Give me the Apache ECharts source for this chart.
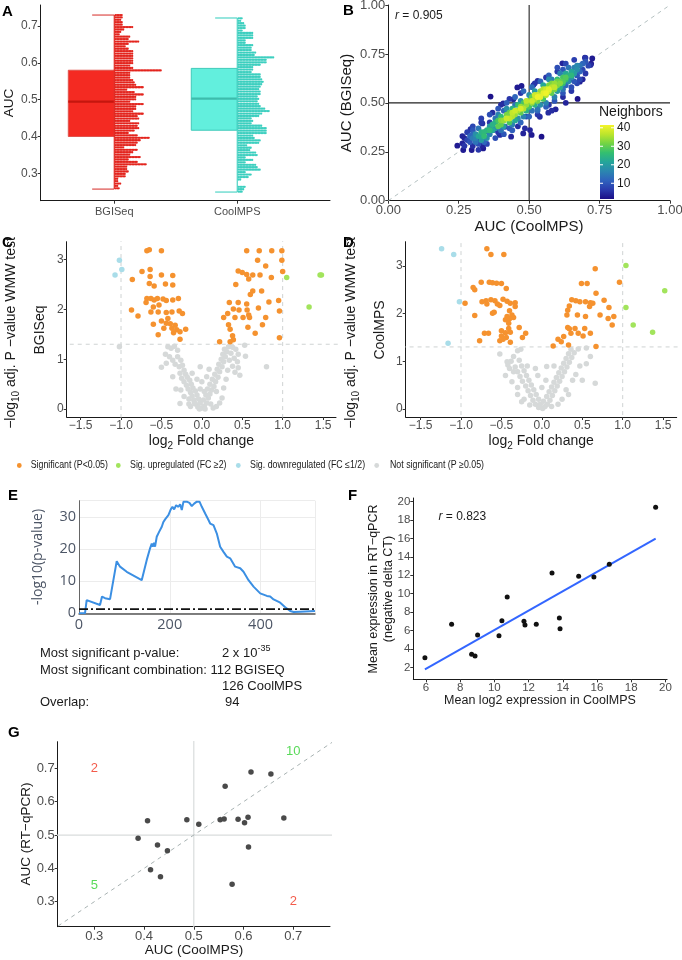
<!DOCTYPE html>
<html><head><meta charset="utf-8">
<script src="https://cdn.jsdelivr.net/npm/echarts@6/dist/echarts.min.js"></script>
<style>html,body{margin:0;padding:0;background:#fff}#c{width:682px;height:960px}</style>
</head><body><div id="c"></div>
<script>
// ---------------- DATA ----------------
const aGroups = ['BGISeq', 'CoolMPS'];
const boxBGISeq = [0.257, 0.400, 0.495, 0.580, 0.730];
const boxCoolMPS = [0.249, 0.417, 0.503, 0.585, 0.722];
const binRangeBGISeq = [0.730, 0.259];
const dotsBGISeq = [5,5,4,5,5,12,6,4,3,10,9,16,9,7,9,12,12,12,12,12,12,10,12,31,10,10,10,12,13,14,19,8,13,19,14,14,10,19,14,14,12,19,15,16,10,16,15,16,13,9,15,23,17,15,14,6,15,12,10,17,9,15,21,8,8,9,7,7,2,2,4,2,3];
const binRangeCoolMPS = [0.721, 0.250];
const dotsCoolMPS = [3,2,4,5,5,3,10,10,10,5,5,10,9,9,12,11,24,19,19,15,10,10,9,15,15,16,17,16,15,14,15,15,13,14,13,14,15,18,21,16,14,9,10,9,16,19,19,19,10,11,15,14,6,9,8,12,13,5,10,5,12,13,15,5,9,7,2,0,0,5,4,3];

const bPoints = [
[0.245,0.281,3],[0.263,0.293,4],[0.266,0.259,3],[0.263,0.330,4],[0.296,0.259,3],[0.292,0.365,5],[0.334,0.395,5],[0.334,0.281,4],[0.363,0.532,2],[0.337,0.267,3],[0.317,0.313,6],[0.408,0.497,4],[0.414,0.378,6],[0.436,0.327,4],[0.458,0.579,3],[0.473,0.586,3],[0.444,0.518,4],[0.479,0.344,4],[0.503,0.361,4],[0.544,0.327,2],[0.568,0.450,5],[0.594,0.467,4],[0.672,0.520,2],[0.680,0.608,4],[0.718,0.693,5],[0.724,0.727,3],[0.698,0.731,4],[0.618,0.702,4],[0.515,0.591,5],[0.530,0.612,5],[0.509,0.336,3],[0.485,0.370,5],[0.538,0.429,5],[0.643,0.617,6],[0.426,0.446,6],[0.396,0.336,5],[0.373,0.361,5],[0.346,0.353,7],
[0.28,0.31,8],[0.29,0.33,12],[0.30,0.32,15],[0.31,0.34,18],[0.31,0.30,14],[0.32,0.33,22],[0.33,0.31,20],[0.33,0.35,24],[0.34,0.33,26],[0.35,0.36,24],[0.35,0.32,18],[0.36,0.38,20],[0.30,0.36,10],[0.32,0.37,14],[0.34,0.30,12],[0.36,0.34,16],[0.37,0.36,22],[0.38,0.40,24],
[0.38,0.37,18],[0.39,0.41,28],[0.40,0.39,30],[0.40,0.43,26],[0.41,0.41,34],[0.41,0.38,20],[0.42,0.44,32],[0.42,0.42,38],[0.43,0.40,28],[0.43,0.45,30],[0.44,0.43,36],[0.44,0.47,24],[0.45,0.44,34],[0.45,0.41,22],[0.46,0.46,35],[0.46,0.49,26],[0.47,0.45,30],[0.47,0.48,34],[0.48,0.47,36],[0.48,0.50,28],[0.49,0.49,34],[0.49,0.46,24],[0.50,0.51,32],[0.50,0.48,28],[0.39,0.44,16],[0.40,0.36,14],[0.42,0.47,18],[0.44,0.39,16],[0.46,0.42,18],[0.47,0.51,18],[0.48,0.43,16],[0.38,0.42,14],[0.41,0.46,12],[0.45,0.49,14],[0.43,0.37,10],
[0.51,0.50,34],[0.51,0.53,30],[0.52,0.52,36],[0.52,0.49,24],[0.53,0.54,38],[0.53,0.51,32],[0.54,0.53,40],[0.54,0.56,34],[0.55,0.55,40],[0.55,0.52,28],[0.56,0.57,38],[0.56,0.54,36],[0.57,0.56,38],[0.57,0.59,32],[0.58,0.58,36],[0.58,0.55,30],[0.59,0.60,34],[0.59,0.57,32],[0.60,0.59,32],[0.60,0.62,26],[0.61,0.61,30],[0.61,0.58,24],[0.62,0.63,28],[0.62,0.60,26],[0.63,0.62,26],[0.63,0.65,22],[0.64,0.64,24],[0.64,0.61,18],[0.65,0.66,22],[0.65,0.63,18],[0.66,0.65,20],[0.66,0.68,16],[0.67,0.67,18],[0.68,0.69,14],[0.68,0.66,12],[0.69,0.70,12],[0.70,0.71,10],[0.71,0.69,8],[0.52,0.56,20],[0.54,0.49,18],[0.56,0.50,16],[0.57,0.62,18],[0.59,0.53,16],[0.60,0.56,20],[0.62,0.57,14],[0.63,0.59,12],[0.64,0.68,14],[0.66,0.61,10],[0.55,0.59,22],[0.58,0.62,16],[0.53,0.47,14],[0.61,0.65,16],[0.67,0.64,10],[0.69,0.67,8],[0.70,0.73,6],[0.62,0.67,10],[0.50,0.54,18],[0.51,0.46,14],
[0.36,0.40,6],[0.39,0.35,6],[0.46,0.38,5],[0.49,0.43,8],[0.53,0.44,6],[0.57,0.49,6],[0.62,0.53,5],[0.65,0.56,6],[0.67,0.60,8],[0.60,0.66,6],[0.56,0.63,6],[0.52,0.60,6],[0.47,0.55,6],[0.43,0.52,6],[0.40,0.49,5],[0.37,0.45,5],[0.33,0.40,6],[0.30,0.28,5],[0.27,0.32,4],[0.58,0.46,5],[0.63,0.50,4],[0.69,0.62,4],[0.72,0.70,3],
[0.30,0.38,8],[0.33,0.42,7],[0.36,0.44,9],[0.39,0.47,10],[0.42,0.50,11],[0.45,0.53,12],[0.48,0.56,12],[0.51,0.58,13],[0.54,0.61,12],[0.57,0.64,11],[0.60,0.68,9],[0.63,0.70,8],[0.66,0.72,7],
[0.32,0.26,6],[0.35,0.29,8],[0.38,0.32,9],[0.41,0.34,10],[0.44,0.36,11],[0.47,0.40,12],[0.50,0.43,12],[0.53,0.46,12],[0.56,0.48,11],[0.59,0.51,10],[0.62,0.55,10],[0.65,0.58,9],[0.68,0.62,8],[0.70,0.65,6],
[0.36,0.36,26],[0.39,0.38,30],[0.40,0.41,33],[0.43,0.42,37],[0.45,0.46,38],[0.47,0.47,39],[0.49,0.51,37],[0.51,0.51,38],[0.53,0.53,41],[0.56,0.55,41],[0.57,0.57,40],[0.59,0.58,37],[0.61,0.60,33],[0.63,0.63,29],[0.65,0.64,25],[0.67,0.69,17],[0.34,0.35,25],[0.37,0.39,24],[0.44,0.45,37],[0.52,0.54,38],[0.55,0.57,36],[0.58,0.60,32],[0.60,0.61,31],[0.62,0.61,29],
[0.27,0.28,6],[0.29,0.30,10],[0.31,0.32,16],[0.33,0.33,22],[0.30,0.34,12],[0.28,0.35,7],[0.32,0.29,9]
];
const bCorr = 0.905;
const neighborTicks = [10, 20, 30, 40];

const cSignificant = [[-0.68,3.18],[-0.65,3.20],[-0.50,3.18],[-0.74,2.76],[-0.64,2.80],[-0.64,2.66],[-0.50,2.69],[-0.36,2.68],[-0.86,2.60],[-0.65,2.52],[-0.59,2.47],[-0.45,2.51],[-0.36,2.49],[-0.68,2.22],[-0.63,2.22],[-0.59,2.19],[-0.55,2.22],[-0.48,2.21],[-0.44,2.18],[-0.36,2.19],[-0.29,2.22],[-0.69,2.14],[-0.60,2.05],[-0.53,2.09],[-0.87,1.99],[-0.63,1.95],[-0.54,1.95],[-0.44,1.94],[-0.37,1.95],[-0.28,1.97],[-0.24,1.92],[-0.79,1.87],[-0.50,1.77],[-0.44,1.72],[-0.39,1.71],[-0.60,1.70],[-0.47,1.62],[-0.37,1.62],[-0.31,1.59],[-0.27,1.55],[-0.20,1.60],[-0.54,1.49],[-0.35,1.53],[-0.27,1.40],[-0.42,1.82],[-0.33,1.68],
[0.555,3.18],[0.71,3.18],[0.865,3.18],[0.99,3.18],[0.69,2.99],[0.99,2.99],[0.79,2.87],[1.0,2.76],[0.45,2.77],[0.50,2.74],[0.555,2.70],[0.63,2.69],[0.72,2.69],[0.86,2.64],[0.58,2.61],[0.42,2.50],[0.60,2.30],[0.63,2.37],[0.74,2.37],[0.34,2.14],[0.45,2.14],[0.555,2.11],[0.83,2.15],[0.95,2.18],[0.39,2.01],[0.46,1.99],[0.56,1.99],[0.70,2.03],[0.96,1.97],[0.32,1.92],[0.58,1.89],[0.59,1.84],[0.27,1.84],[0.41,1.84],[0.51,1.84],[0.79,1.84],[0.33,1.69],[0.75,1.69],[0.35,1.60],[0.57,1.64],[0.38,1.47],[0.39,1.39],[0.66,1.52],[0.96,1.43],[0.22,1.35],[0.35,1.35]];
const cUp = [[1.05,2.64],[1.327,2.05],[1.463,2.69],[1.48,2.69]];
const cDown = [[-1.074,2.69],[-1.02,2.99],[-0.99,2.80]];
const cNotSig = [[-1.02,1.25],[-0.50,0.84],[-0.42,1.25],[-0.38,1.22],[-0.34,1.26],[-0.30,1.18],[-0.40,1.05],[-0.36,0.98],[-0.44,0.92],[-0.30,1.05],[-0.26,0.98],[-0.33,0.90],[-0.28,0.85],[-0.24,0.88],[-0.22,0.78],[-0.27,0.72],[-0.20,0.70],[-0.25,0.62],[-0.18,0.64],[-0.22,0.55],[-0.15,0.58],[-0.19,0.48],[-0.13,0.50],[-0.17,0.40],[-0.11,0.42],[-0.14,0.33],[-0.08,0.36],[-0.12,0.26],[-0.06,0.28],[-0.10,0.18],[-0.04,0.20],[-0.08,0.10],[-0.02,0.12],[-0.05,0.04],[0.0,0.02],[0.03,0.06],[0.06,0.12],[0.02,0.18],[0.08,0.22],[0.05,0.28],[0.10,0.30],[0.12,0.38],[0.07,0.40],[0.15,0.45],[0.10,0.50],[0.17,0.55],[0.13,0.60],[0.20,0.64],[0.16,0.70],[0.22,0.75],[0.19,0.80],[0.25,0.85],[0.21,0.90],[0.27,0.95],[0.24,1.00],[0.29,1.05],[0.26,1.10],[0.31,1.15],[0.28,1.20],[0.33,1.25],[0.38,1.24],[0.42,1.20],[0.36,1.12],[0.40,1.02],[0.34,0.98],[0.44,0.95],[0.38,0.86],[0.45,0.83],[0.47,0.68],[0.41,0.74],[0.54,1.06],[0.53,1.28],[0.80,0.85],[-0.27,0.11],[-0.16,0.10],[-0.16,0.20],[-0.22,0.25],[-0.26,0.38],[0.18,0.05],[0.22,0.12],[0.25,0.22],[0.18,0.35],[0.27,0.42],[0.30,0.60],[0.03,0.35],[-0.02,0.40],[0.0,0.55],[-0.06,0.60],[0.06,0.65],[-0.12,0.72],[0.09,0.80],[-0.02,0.85],[-0.09,0.12],[0.11,0.10],[0.14,0.02],[-0.14,0.05],[0.04,0.0],[-0.03,0.0],[-0.32,0.40],[0.32,0.78],[-0.36,0.65],[-0.45,1.10],[0.45,1.10]];

const dSignificant = [[-0.68,3.36],[-0.63,3.24],[-0.47,3.24],[-0.75,2.66],[-0.65,2.66],[-0.61,2.65],[-0.56,2.64],[-0.50,2.63],[-0.85,2.55],[-0.83,2.50],[-0.44,2.53],[-0.95,2.22],[-0.74,2.25],[-0.69,2.27],[-0.63,2.29],[-0.58,2.27],[-0.48,2.30],[-0.43,2.26],[-0.39,2.22],[-0.33,2.23],[-0.33,2.15],[-0.68,2.20],[-0.55,2.20],[-0.52,2.17],[-0.40,2.06],[-0.59,2.03],[-0.61,2.01],[-0.37,1.97],[-0.83,1.96],[-0.43,1.94],[-0.35,1.92],[-0.45,1.87],[-0.40,1.89],[-0.41,1.80],[-0.28,1.71],[-0.41,1.69],[-0.50,1.64],[-0.45,1.60],[-0.39,1.61],[-0.71,1.59],[-0.66,1.59],[-0.20,1.59],[-0.50,1.53],[-0.44,1.50],[-0.24,1.50],[-0.77,1.43],[-0.52,1.43],[-0.39,1.40],[-0.48,1.46],
[0.66,2.94],[0.49,2.63],[0.56,2.63],[0.96,2.66],[0.67,2.43],[0.37,2.29],[0.42,2.27],[0.47,2.25],[0.54,2.25],[0.60,2.23],[0.63,2.22],[0.77,2.28],[0.34,2.16],[0.59,2.15],[0.83,2.13],[0.32,2.07],[0.31,1.97],[0.44,1.97],[0.54,1.94],[0.72,1.97],[0.82,1.90],[0.89,1.94],[0.87,1.76],[0.32,1.71],[0.34,1.68],[0.41,1.69],[0.53,1.69],[0.27,1.52],[0.36,1.59],[0.45,1.59],[0.51,1.53],[0.60,1.59],[0.20,1.46],[0.24,1.41],[0.33,1.34],[0.67,1.31],[0.14,1.32]];
const dUp = [[1.04,3.01],[1.04,2.13],[1.13,1.76],[1.37,1.61],[1.52,2.48]];
const dDown = [[-1.24,3.36],[-1.09,3.24],[-1.02,2.25],[-1.16,1.38]];
const dNotSig = [[-0.52,1.15],[-0.43,0.99],[-0.38,1.00],[-0.42,0.92],[-0.30,1.22],[-0.26,1.25],[-0.35,1.10],[-0.28,1.02],[-0.33,0.88],[-0.25,0.90],[-0.30,0.78],[-0.35,0.78],[-0.22,0.80],[-0.27,0.68],[-0.19,0.70],[-0.24,0.58],[-0.37,0.57],[-0.16,0.60],[-0.20,0.48],[-0.13,0.50],[-0.17,0.38],[-0.10,0.40],[-0.14,0.28],[-0.07,0.30],[-0.11,0.18],[-0.04,0.20],[-0.08,0.10],[-0.02,0.10],[-0.04,0.03],[0.01,0.01],[0.04,0.05],[0.07,0.10],[0.02,0.16],[0.10,0.18],[0.06,0.26],[0.13,0.28],[0.09,0.36],[0.16,0.38],[0.12,0.46],[0.19,0.48],[0.15,0.56],[0.22,0.58],[0.18,0.66],[0.25,0.68],[0.21,0.76],[0.28,0.78],[0.24,0.86],[0.31,0.88],[0.27,0.96],[0.34,0.98],[0.30,1.06],[0.37,1.08],[0.33,1.16],[0.40,1.18],[0.36,1.25],[0.45,1.26],[0.55,1.28],[0.47,0.90],[0.60,1.10],[0.55,0.95],[0.42,0.72],[0.66,0.54],[0.50,0.60],[0.06,0.89],[-0.08,0.85],[0.15,0.90],[-0.25,0.15],[-0.22,0.20],[-0.30,0.30],[0.25,0.20],[0.30,0.40],[0.20,0.10],[-0.15,0.08],[0.12,0.05],[-0.45,0.70],[-0.18,0.90],[0.00,0.45],[0.05,0.60],[-0.05,0.70],[-0.30,0.45],[0.38,0.60],[0.33,0.30],[-0.40,0.85]];
const pCutoff = 1.301;
const fcCutoffs = [-1, 1];

const eCurve = [[0,0],[13.2,0],[16.9,4.1],[46.3,2.6],[50.7,5.2],[57.4,4.7],[68.4,4.4],[83.1,16.2],[90.4,14.5],[105.1,12.9],[138.2,10.3],[149.3,16.6],[156.6,20.2],[160.3,21.7],[162.5,20.7],[165.4,21.9],[167.6,20.7],[171.3,23.8],[176.5,25.3],[178.7,24.8],[182.4,26.9],[186,28.4],[189.7,29.2],[191.9,28.8],[197,30.5],[202.2,32.3],[205.9,33.1],[209.6,32.3],[214,33.6],[219.1,33.1],[222.8,33.9],[226.5,32.1],[230.2,34.7],[237.5,34.7],[243.4,34.3],[248.5,33.3],[253.7,34.1],[259.6,34.7],[265.5,34.7],[270.6,33.1],[278,31.0],[285.3,29.0],[289,27.9],[292.6,28.4],[296.3,27.4],[303.7,24.8],[311,20.7],[318.4,19.1],[325.7,17.6],[333.1,17.1],[344.1,14.5],[347.8,14.0],[355.2,14.0],[362.5,12.9],[373.5,10.3],[384.6,8.3],[399.3,6.2],[414,5.4],[421.3,5.2],[428.7,4.3],[443.4,3.3],[454.4,1.9],[465.4,0.7],[472.8,0.4],[487.5,0.5],[520,0.7]];
const eThreshold = 1.3;
const eXRange = [0, 520];

const fPoints = [[5.94,3.04],[7.50,6.67],[8.67,3.41],[8.87,3.23],[9.02,5.51],[10.27,5.43],[10.44,7.07],[10.75,9.64],[11.73,7.00],[11.79,6.60],[12.45,6.67],[13.37,12.25],[13.80,7.36],[13.84,6.20],[14.93,11.89],[15.82,11.81],[16.72,13.20],[19.43,19.39]];
const fCorr = 0.823;

const gPoints = [[0.388,0.490],[0.407,0.543],[0.427,0.470],[0.413,0.396],[0.433,0.375],[0.447,0.453],[0.486,0.546],[0.510,0.532],[0.563,0.646],[0.553,0.546],[0.561,0.548],[0.589,0.547],[0.609,0.553],[0.602,0.537],[0.610,0.464],[0.577,0.352],[0.615,0.689],[0.655,0.683],[0.681,0.551]];
const gQuadCounts = [{x:0.3,y:0.7,n:'2',agree:false},{x:0.7,y:0.75,n:'10',agree:true},{x:0.3,y:0.35,n:'5',agree:true},{x:0.7,y:0.3,n:'2',agree:false}];

// ---------------- STYLE / LAYOUT ----------------
const FONT = '"Liberation Sans", Arial, Helvetica, sans-serif';
const OPEN = '"Open Sans", "Liberation Sans", sans-serif';
const TICK = '#4d4d4d';
const cOrange = '#f5922f', cGreen = '#a2e45c', cBlue = '#a9dde9', cGrey = '#d6d9d9';
const neighborColors = ['#1c0e86','#2a3aad','#2f62bd','#2b86b0','#24a59a','#33bf70','#73d444','#bce52c','#f4f42a'];
const nRange = [1.5, 41.5];

const grids = [
  {left:40.7, top:5, width:289.3, height:195.7},     // A
  {left:388.3, top:5, width:281.7, height:195.7},    // B
  {left:66.7, top:241.7, width:269.3, height:175.3}, // C
  {left:405.7, top:241.7, width:271, height:175.3},  // D
  {left:79, top:500.7, width:236, height:112.6},     // E
  {left:413.3, top:498, width:253.8, height:181.3},  // F
  {left:57.7, top:741.7, width:272.3, height:185}    // G
].map(g => Object.assign({containLabel:false, outerBoundsMode:'none'}, g));

function ggAxis(gi, min, max, ticks, fmt, fs, extra) {
  return Object.assign({
    type:'value', gridIndex:gi, min:min, max:max, scale:true,
    axisLine:{show:true, onZero:false, lineStyle:{color:'#1a1a1a', width:1}},
    axisTick:{show:true, length:3, customValues:ticks, lineStyle:{color:'#333', width:1}},
    axisLabel:{show:true, customValues:ticks, formatter:fmt, fontSize:fs, color:TICK, fontFamily:FONT, margin:3, hideOverlap:false},
    splitLine:{show:false}
  }, extra || {});
}
const f1 = v => (+v).toFixed(1);
const f2 = v => (+v).toFixed(2);
const fm = v => (+v).toFixed(1).replace('-', '\u2212');
const fi = v => String(Math.round(v));

const xAxes = [
  ggAxis(0, 0.4016, 2.754, [1,2], v => aGroups[Math.round(v)-1], 11),
  ggAxis(1, 0, 1, [0,0.25,0.5,0.75,1], f2, 13),
  ggAxis(2, -1.672, 1.66, [-1.5,-1,-0.5,0,0.5,1,1.5], fm, 12),
  ggAxis(3, -1.684, 1.668, [-1.5,-1,-0.5,0,0.5,1,1.5], fm, 12),
  {type:'value', gridIndex:4, min:eXRange[0], max:eXRange[1], interval:200,
    axisLine:{show:true, onZero:false, lineStyle:{color:'#555', width:1.5}}, axisTick:{show:false},
    axisLabel:{customValues:[0,200,400], fontSize:14.5, color:'#4d5666', fontFamily:OPEN, margin:4},
    splitLine:{show:true, lineStyle:{color:'#ececec', width:1}}},
  ggAxis(5, 5.26, 20.1, [6,8,10,12,14,16,18,20], fi, 11.5),
  ggAxis(6, 0.2264, 0.7738, [0.3,0.4,0.5,0.6,0.7], f1, 13)
];
xAxes[0].axisLabel.margin = 6;
const yAxes = [
  ggAxis(0, 0.2255, 0.7573, [0.3,0.4,0.5,0.6,0.7], f1, 12),
  ggAxis(1, 0, 1, [0,0.25,0.5,0.75,1], f2, 13),
  ggAxis(2, -0.16, 3.36, [0,1,2,3], fi, 12),
  ggAxis(3, -0.17, 3.51, [0,1,2,3], fi, 12),
  {type:'value', gridIndex:4, min:0, max:35, interval:10,
    axisLine:{show:true, onZero:false, lineStyle:{color:'#666', width:1}}, axisTick:{show:false},
    axisLabel:{customValues:[0,10,20,30], fontSize:14.5, color:'#4d5666', fontFamily:OPEN, margin:3},
    splitLine:{show:true, lineStyle:{color:'#ececec', width:1}}},
  ggAxis(5, 0.70, 20.4, [2,4,6,8,10,12,14,16,18,20], fi, 11.5),
  ggAxis(6, 0.225, 0.78, [0.3,0.4,0.5,0.6,0.7], f1, 13)
];

const series = [];
function refLine(ai, pts, color, width, type, z) {
  series.push({type:'line', xAxisIndex:ai, yAxisIndex:ai, data:pts, symbol:'none', silent:true,
    lineStyle:{color:color, width:width, type:type||'solid'}, z:z||1, animation:false});
}
function scat(ai, data, color, size, z) {
  series.push({type:'scatter', xAxisIndex:ai, yAxisIndex:ai, data:data, symbolSize:size,
    itemStyle:{color:color, opacity:1}, z:z||3, silent:true, animation:false});
}

// ---- Panel A ----
const aStyle = [
  {fill:'#f42a22', stroke:'#e0534d', med:'#c5160e', dot:'#e3241d', whisk:'#e0261e', cap:'#df5a57'},
  {fill:'#62efdd', stroke:'#3fcab9', med:'#3dbcac', dot:'#3ccfbf', whisk:'#4fd3c4', cap:'#5fd8cb'}
];
const BOX_HALF = 0.374, CAP = 0.18, DOT_STEP = 1.5;
series.push({
  type:'custom', coordinateSystem:'cartesian2d', xAxisIndex:0, yAxisIndex:0, silent:true, z:2,
  data:[[1].concat(boxBGISeq), [2].concat(boxCoolMPS)],
  renderItem:function(params, api){
    const gx = api.value(0), lw = api.value(1), q1 = api.value(2), md = api.value(3), q3 = api.value(4), uw = api.value(5);
    const s = aStyle[gx-1];
    const tl = api.coord([gx-BOX_HALF, q3]), br = api.coord([gx, q1]);
    const m0 = api.coord([gx-BOX_HALF, md]), m1 = api.coord([gx, md]);
    const top = api.coord([gx, uw]), bot = api.coord([gx, lw]);
    const ct = api.coord([gx-CAP, uw]), cb = api.coord([gx-CAP, lw]);
    return {type:'group', children:[
      {type:'rect', shape:{x:tl[0], y:tl[1], width:br[0]-tl[0], height:br[1]-tl[1]}, style:{fill:s.fill, stroke:s.stroke, lineWidth:1}},
      {type:'line', shape:{x1:m0[0], y1:m0[1], x2:m1[0], y2:m1[1]}, style:{stroke:s.med, lineWidth:2.2}},
      {type:'line', shape:{x1:ct[0], y1:ct[1], x2:top[0], y2:top[1]}, style:{stroke:s.cap, lineWidth:1.3}},
      {type:'line', shape:{x1:cb[0], y1:cb[1], x2:bot[0], y2:bot[1]}, style:{stroke:s.cap, lineWidth:1.3}},
      {type:'line', shape:{x1:top[0], y1:top[1], x2:bot[0], y2:bot[1]}, style:{stroke:s.whisk, lineWidth:1.2}}
    ]};
  }
});
function dotRows(gx, range, counts) {
  const step = (range[0]-range[1])/(counts.length-1);
  return counts.map((n, i) => [gx, range[0]-i*step, n]);
}
series.push({
  type:'custom', coordinateSystem:'cartesian2d', xAxisIndex:0, yAxisIndex:0, silent:true, z:3,
  data: dotRows(1, binRangeBGISeq, dotsBGISeq).concat(dotRows(2, binRangeCoolMPS, dotsCoolMPS)),
  renderItem:function(params, api){
    const gx = api.value(0), v = api.value(1), n = api.value(2);
    const p = api.coord([gx, v]);
    const col = aStyle[gx-1].dot;
    const ch = [];
    for (let k = 0; k < n; k++) ch.push({type:'circle', shape:{cx:p[0]+1.4+k*DOT_STEP, cy:p[1], r:1.15}, style:{fill:col}});
    return {type:'group', children:ch};
  }
});

// ---- Panel B ----
refLine(1, [[0,0],[1,1]], '#b4c0c0', 1, [4,4], 1);
refLine(1, [[0.5,0],[0.5,1]], '#222', 1.1, 'solid', 1);
refLine(1, [[0,0.5],[1,0.5]], '#222', 1.1, 'solid', 1);
const bSorted = bPoints.slice().sort((a,b) => a[2]-b[2]);
const bSeriesIndex = series.length;
scat(1, bSorted, '#888', 5.8, 3);

// ---- Panel C / D ----
function volcano(ai, ns, sig, up, down) {
  refLine(ai, [[fcCutoffs[0],-5],[fcCutoffs[0],5]], '#cfd3d3', 1, [4,4], 1);
  refLine(ai, [[fcCutoffs[1],-5],[fcCutoffs[1],5]], '#cfd3d3', 1, [4,4], 1);
  refLine(ai, [[-5,pCutoff],[5,pCutoff]], '#cfd3d3', 1, [4,4], 1);
  scat(ai, ns, cGrey, 5.5, 3);
  scat(ai, sig, cOrange, 5.5, 4);
  scat(ai, up, cGreen, 5.5, 4);
  scat(ai, down, cBlue, 5.5, 4);
}
volcano(2, cNotSig, cSignificant, cUp, cDown);
volcano(3, dNotSig, dSignificant, dUp, dDown);

// ---- Panel E ----
series.push({type:'line', xAxisIndex:4, yAxisIndex:4, data:eCurve, symbol:'none', silent:true, z:3,
  lineStyle:{color:'#3b8fe3', width:2}, animation:false});
refLine(4, [[eXRange[0],eThreshold],[eXRange[1],eThreshold]], '#111', 1.6, [9,3,2,3], 4);

// ---- Panel F ----
(function(){
  const n = fPoints.length;
  const mx = fPoints.reduce((s,p)=>s+p[0],0)/n, my = fPoints.reduce((s,p)=>s+p[1],0)/n;
  let sxy = 0, sxx = 0;
  fPoints.forEach(p => { sxy += (p[0]-mx)*(p[1]-my); sxx += (p[0]-mx)*(p[0]-mx); });
  const b = sxy/sxx, a = my - b*mx;
  const xs = fPoints.map(p=>p[0]);
  const x0 = Math.min.apply(null, xs), x1 = Math.max.apply(null, xs);
  series.push({type:'line', xAxisIndex:5, yAxisIndex:5, data:[[x0, a+b*x0],[x1, a+b*x1]], symbol:'none', silent:true, z:2,
    lineStyle:{color:'#3366ff', width:2}, animation:false});
})();
scat(5, fPoints, '#111', 5, 3);

// ---- Panel G ----
refLine(6, [[0.5,0],[0.5,1]], '#d9dcdc', 1.2, 'solid', 1);
refLine(6, [[0,0.5],[1,0.5]], '#d9dcdc', 1.2, 'solid', 1);
refLine(6, [[0,0],[1,1]], '#a8b2b2', 1, [4,4], 1);
scat(6, gPoints, '#4a4a4a', 5.5, 3);
series.push({type:'scatter', xAxisIndex:6, yAxisIndex:6, symbolSize:0, silent:true, z:4,
  data: gQuadCounts.map(q => ({value:[q.x, q.y], label:{show:true, position:'inside', formatter:q.n, fontSize:13, fontFamily:FONT, color: q.agree ? '#2fd12f' : '#f0321e'}}))});

// ---------------- GRAPHICS ----------------
const graphics = [];
function txt(x, y, text, o) {
  o = o || {};
  graphics.push({type:'text', x:x, y:y, rotation:o.rot||0, scaleX:o.sx||1, z:100, silent:true,
    style:{text:text, fill:o.color||'#1a1a1a', fontSize:o.fs||12, fontFamily:o.ff||FONT, fontWeight:o.fw||'normal',
      fontStyle:o.fst||'normal', align:o.align||'left', verticalAlign:o.va||'middle', rich:o.rich}});
}
const R90 = Math.PI/2;
[['A',2,12],['B',343,11],['C',2,243],['D',343,243],['E',8,496],['F',348,496],['G',8,733]].forEach(l => txt(l[1], l[2], l[0], {fs:15, fw:'bold', color:'#000'}));

txt(9, 103, 'AUC', {rot:R90, align:'center', fs:13.5});
txt(347, 103, 'AUC (BGISeq)', {rot:R90, align:'center', fs:15});
txt(529, 227, 'AUC (CoolMPS)', {align:'center', fs:15});
txt(395, 16, '{i|r} = ' + bCorr.toFixed(3), {fs:12, rich:{i:{fontStyle:'italic', fontSize:12, fontFamily:FONT, fill:'#1a1a1a'}}});
const cbX = 600, cbY = 125, cbW = 14, cbH = 74;
graphics.push({type:'rect', z:100, silent:true, shape:{x:cbX, y:cbY, width:cbW, height:cbH},
  style:{fill:new echarts.graphic.LinearGradient(0,1,0,0, neighborColors.map((c,i)=>({offset:i/(neighborColors.length-1), color:c})))}});
neighborTicks.forEach(t => {
  const yy = cbY + cbH - (t-nRange[0])/(nRange[1]-nRange[0])*cbH;
  graphics.push({type:'line', z:101, silent:true, shape:{x1:cbX, y1:yy, x2:cbX+3, y2:yy}, style:{stroke:'#fff', lineWidth:1}});
  graphics.push({type:'line', z:101, silent:true, shape:{x1:cbX+cbW-3, y1:yy, x2:cbX+cbW, y2:yy}, style:{stroke:'#fff', lineWidth:1}});
  txt(cbX+cbW+3, yy, String(t), {fs:12, color:'#1a1a1a'});
});
txt(599, 112, 'Neighbors', {fs:14});

const richLog = {
  a:{fontSize:14, fontFamily:FONT, fill:'#1a1a1a', lineHeight:20, verticalAlign:'middle'},
  s:{fontSize:10, fontFamily:FONT, fill:'#1a1a1a', lineHeight:10, verticalAlign:'bottom'}
};
function volcanoTitles(x1, x2, cx, label) {
  txt(x1, 333, '{a|\u2212log}{s|10}{a| adj. P \u2212value WMW test}', {rot:R90, align:'center', rich:richLog});
  txt(x2, 330, label, {rot:R90, align:'center', fs:14});
  txt(cx, 441, '{a|log}{s|2}{a| Fold change}', {align:'center', rich:richLog});
}
volcanoTitles(11, 40, 201.4, 'BGISeq');
volcanoTitles(351, 380, 541.2, 'CoolMPS');

const legendItems = [
  {x:19.3, tx:30.7, c:cOrange, t:'Significant (P<0.05)'},
  {x:118.3, tx:130, c:cGreen, t:'Sig. upregulated (FC \u22652)'},
  {x:238.3, tx:250, c:cBlue, t:'Sig. downregulated (FC \u22641/2)'},
  {x:376.7, tx:390, c:cGrey, t:'Not significant (P \u22650.05)'}
];
legendItems.forEach(it => {
  graphics.push({type:'circle', z:100, silent:true, shape:{cx:it.x, cy:465.5, r:2.4}, style:{fill:it.c}});
  txt(it.tx, 465.5, it.t, {fs:10.5, sx:0.84, color:'#1a1a1a'});
});

txt(38, 557, '-log10(p-value)', {rot:R90, align:'center', fs:14, ff:OPEN, color:'#4d5666'});
const eFs = 13, eCol = '#1a1a1a';
txt(40, 653, 'Most significant p-value:', {fs:eFs, color:eCol});
txt(222, 653, '{a|2 x 10}{p|-35}', {fs:eFs, color:eCol, rich:{
  a:{fontSize:eFs, fontFamily:FONT, fill:eCol, lineHeight:18, verticalAlign:'middle'},
  p:{fontSize:9, fontFamily:FONT, fill:eCol, lineHeight:9, verticalAlign:'top'}}});
txt(40, 670, 'Most significant combination: 112 BGISEQ', {fs:eFs, color:eCol});
txt(222, 686.5, '126 CoolMPS', {fs:eFs, color:eCol});
txt(40, 702.5, 'Overlap:', {fs:eFs, color:eCol});
txt(225, 702.5, '94', {fs:eFs, color:eCol});

txt(373.3, 589, 'Mean expression in RT\u2212qPCR', {rot:R90, align:'center', fs:12.5});
txt(388.3, 589, '(negative delta CT)', {rot:R90, align:'center', fs:12.5});
txt(540, 701, 'Mean log2 expression in CoolMPS', {align:'center', fs:12.5});
txt(438.5, 516.5, '{i|r} = ' + fCorr.toFixed(3), {fs:12, rich:{i:{fontStyle:'italic', fontSize:12, fontFamily:FONT, fill:'#1a1a1a'}}});

txt(26.7, 834, 'AUC (RT\u2212qPCR)', {rot:R90, align:'center', fs:13.5});
txt(194, 950, 'AUC (CoolMPS)', {align:'center', fs:13.5});

const chart = echarts.init(document.getElementById('c'), null, {renderer:'canvas'});
chart.setOption({
  animation:false,
  backgroundColor:'#fff',
  grid:grids, xAxis:xAxes, yAxis:yAxes,
  visualMap:[{type:'continuous', show:false, seriesIndex:bSeriesIndex, dimension:2, min:nRange[0], max:nRange[1], inRange:{color:neighborColors}}],
  series:series,
  graphic:graphics
});
</script></body></html>
